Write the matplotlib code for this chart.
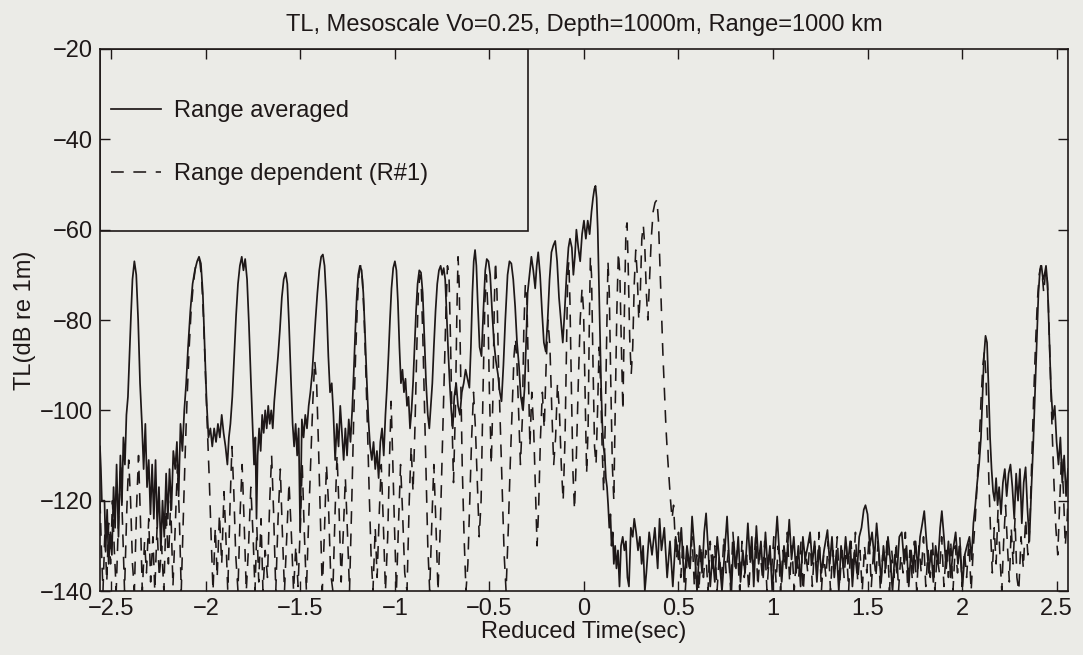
import numpy as np
import matplotlib.pyplot as plt
from matplotlib.patches import Rectangle

# ---- text ----
title_text = 'TL, Mesoscale Vo=0.25, Depth=1000m, Range=1000 km'
x_label = 'Reduced Time(sec)'
y_label = 'TL(dB re 1m)'
series_names = ['Range averaged', 'Range dependent (R#1)']

x_ticks = [-2.5, -2, -1.5, -1, -0.5, 0, 0.5, 1, 1.5, 2, 2.5]
x_tick_labels = ['\u22122.5', '\u22122', '\u22121.5', '\u22121', '\u22120.5', '0',
                 '0.5', '1', '1.5', '2', '2.5']
y_ticks = [-140, -120, -100, -80, -60, -40, -20]
y_tick_labels = ['\u2212140', '\u2212120', '\u2212100', '\u221280', '\u221260',
                 '\u221240', '\u221220']

# ---- Range averaged (solid) as (time, TL) ----
avg_early = [
    (-2.560, -108), (-2.555, -113), (-2.550, -120), (-2.536, -120), (-2.530, -131),
    (-2.522, -122), (-2.514, -134), (-2.505, -127), (-2.497, -132), (-2.488, -117),
    (-2.480, -126), (-2.472, -112), (-2.462, -128), (-2.452, -110), (-2.444, -121),
    (-2.436, -106), (-2.428, -112), (-2.420, -101), (-2.412, -97), (-2.404, -88),
    (-2.396, -79), (-2.388, -71), (-2.378, -67), (-2.368, -70), (-2.358, -80),
    (-2.348, -94), (-2.338, -103), (-2.329, -113), (-2.320, -103), (-2.311, -117),
    (-2.302, -111), (-2.293, -123), (-2.284, -112), (-2.275, -124), (-2.266, -111),
    (-2.257, -126), (-2.248, -117), (-2.238, -131), (-2.229, -120), (-2.220, -128),
    (-2.210, -114), (-2.201, -124), (-2.192, -113), (-2.182, -122), (-2.172, -109),
    (-2.162, -113), (-2.153, -107), (-2.144, -119), (-2.134, -103), (-2.124, -109),
    (-2.114, -100), (-2.104, -94), (-2.094, -86), (-2.082, -78), (-2.070, -72),
    (-2.058, -69), (-2.046, -67), (-2.036, -66), (-2.026, -67.5), (-2.016, -74),
    (-2.006, -86), (-1.996, -98), (-1.986, -106), (-1.976, -104), (-1.966, -108),
    (-1.956, -104), (-1.946, -107), (-1.936, -103), (-1.926, -106), (-1.916, -101),
    (-1.906, -105), (-1.896, -108), (-1.886, -112), (-1.878, -106),
    (-1.870, -103), (-1.860, -97), (-1.850, -88), (-1.840, -79), (-1.830, -72),
    (-1.820, -68), (-1.810, -66), (-1.801, -69), (-1.792, -66.5), (-1.782, -71),
    (-1.772, -81), (-1.762, -93), (-1.752, -104), (-1.745, -112), (-1.738, -106),
    (-1.732, -124), (-1.726, -110), (-1.718, -104), (-1.710, -109), (-1.702, -101),
    (-1.694, -105), (-1.686, -100), (-1.678, -104), (-1.670, -99), (-1.662, -103),
    (-1.654, -100), (-1.646, -104),
    (-1.638, -98), (-1.628, -93), (-1.618, -88), (-1.608, -82), (-1.598, -75),
    (-1.588, -71), (-1.578, -69.5), (-1.569, -72), (-1.560, -81), (-1.550, -93),
    (-1.541, -103), (-1.533, -108), (-1.525, -103), (-1.517, -110), (-1.509, -104),
    (-1.501, -127), (-1.492, -102), (-1.483, -106), (-1.474, -101), (-1.465, -104),
    (-1.456, -99),
    (-1.447, -96), (-1.438, -92), (-1.429, -86), (-1.420, -80), (-1.410, -74),
    (-1.400, -69), (-1.390, -66), (-1.381, -65.5), (-1.372, -68), (-1.362, -76),
    (-1.352, -88), (-1.343, -96), (-1.334, -94), (-1.325, -101), (-1.316, -111),
    (-1.307, -103), (-1.298, -108), (-1.289, -99), (-1.280, -105), (-1.271, -111),
    (-1.262, -104), (-1.253, -110), (-1.244, -102), (-1.235, -107),
    (-1.226, -100), (-1.218, -92), (-1.210, -83), (-1.202, -75), (-1.194, -70),
    (-1.185, -68), (-1.176, -69), (-1.167, -74), (-1.158, -83), (-1.149, -93),
    (-1.140, -102), (-1.131, -108), (-1.122, -111), (-1.113, -107), (-1.104, -113),
    (-1.095, -109), (-1.086, -115), (-1.077, -107), (-1.068, -104), (-1.059, -110),
    (-1.050, -101), (-1.042, -95),
    (-1.034, -88), (-1.026, -80), (-1.018, -73), (-1.009, -68.5), (-1.000, -67),
    (-0.992, -69), (-0.984, -76), (-0.976, -86), (-0.968, -94), (-0.960, -91),
    (-0.952, -96), (-0.944, -93), (-0.936, -99), (-0.928, -97), (-0.920, -104),
    (-0.912, -100),
    (-0.904, -94), (-0.896, -86), (-0.888, -78), (-0.880, -72), (-0.871, -69),
    (-0.862, -69.5), (-0.853, -74), (-0.844, -84), (-0.835, -94), (-0.826, -101),
    (-0.818, -104), (-0.810, -99), (-0.802, -94),
    (-0.794, -86), (-0.785, -78), (-0.776, -72), (-0.767, -69), (-0.758, -68),
    (-0.750, -70), (-0.742, -68.5), (-0.734, -71), (-0.726, -79), (-0.718, -87),
    (-0.710, -94), (-0.702, -100), (-0.694, -104),
]

avg_final = [
    (-0.686, -97), (-0.676, -94), (-0.666, -99), (-0.656, -101), (-0.646, -96),
    (-0.636, -94), (-0.626, -91), (-0.616, -93), (-0.606, -95), (-0.598, -86),
    (-0.590, -74), (-0.583, -67), (-0.576, -64.5), (-0.569, -68), (-0.562, -76),
    (-0.552, -86), (-0.542, -88), (-0.532, -78), (-0.522, -69), (-0.514, -66.5),
    (-0.505, -67), (-0.496, -70), (-0.486, -78), (-0.476, -85), (-0.466, -89),
    (-0.455, -92), (-0.445, -96), (-0.436, -98), (-0.426, -90), (-0.416, -80),
    (-0.404, -70), (-0.394, -67), (-0.384, -67.5), (-0.374, -71), (-0.364, -77),
    (-0.354, -85), (-0.344, -90), (-0.334, -97), (-0.322, -100), (-0.314, -95),
    (-0.306, -85), (-0.298, -74), (-0.288, -70), (-0.278, -66), (-0.268, -69),
    (-0.258, -73), (-0.250, -68), (-0.242, -65), (-0.232, -70), (-0.222, -78),
    (-0.212, -85), (-0.202, -87), (-0.192, -80), (-0.182, -71), (-0.172, -65),
    (-0.162, -63.5), (-0.152, -62.5), (-0.142, -67), (-0.132, -75), (-0.122, -80),
    (-0.112, -85), (-0.102, -78), (-0.092, -70), (-0.082, -64), (-0.074, -62),
    (-0.064, -64), (-0.056, -70), (-0.048, -66), (-0.040, -60), (-0.030, -64),
    (-0.020, -67), (-0.010, -61), (0.000, -58), (0.010, -62), (0.020, -58),
    (0.030, -61), (0.040, -56), (0.048, -53), (0.055, -51), (0.061, -50.3),
    (0.067, -53), (0.073, -60), (0.079, -72), (0.085, -84), (0.091, -95),
    (0.097, -103), (0.103, -108), (0.110, -110), (0.116, -115), (0.122, -117),
    (0.128, -121), (0.134, -126), (0.140, -123), (0.146, -130), (0.152, -127),
    (0.158, -134), (0.165, -130), (0.172, -135), (0.180, -131), (0.188, -139),
    (0.196, -130), (0.205, -128), (0.214, -131), (0.222, -129), (0.230, -137),
    (0.238, -139), (0.248, -126), (0.258, -128), (0.266, -124), (0.276, -127),
    (0.286, -131), (0.296, -128), (0.305, -134), (0.313, -130), (0.322, -140),
]

avg_floor = [
    (0.330, -136), (0.345, -127), (0.360, -132), (0.375, -126), (0.390, -135),
    (0.400, -124), (0.410, -131), (0.425, -126), (0.440, -137), (0.455, -129),
    (0.470, -139), (0.485, -128), (0.500, -133), (0.515, -126), (0.530, -138),
    (0.545, -130), (0.560, -135), (0.572, -123.5), (0.585, -131), (0.598, -140),
    (0.612, -130), (0.625, -136), (0.636, -127), (0.646, -122.8), (0.656, -130),
    (0.668, -139), (0.680, -132), (0.692, -138), (0.705, -128), (0.718, -134),
    (0.730, -140), (0.745, -131), (0.757, -123.5), (0.768, -133), (0.780, -140),
    (0.792, -129), (0.804, -135), (0.816, -128), (0.828, -138), (0.840, -131),
    (0.852, -136), (0.867, -125), (0.878, -133), (0.888, -128), (0.898, -139),
    (0.912, -125.6), (0.924, -134), (0.936, -129), (0.948, -137), (0.960, -127),
    (0.972, -135), (0.984, -130), (0.996, -140), (1.010, -131), (1.022, -123.5),
    (1.034, -132), (1.046, -138), (1.058, -130), (1.070, -135), (1.086, -124.2),
    (1.098, -133), (1.110, -128), (1.122, -136), (1.134, -130), (1.146, -139),
    (1.158, -128), (1.170, -133), (1.184, -130), (1.196, -127), (1.208, -134),
    (1.220, -129), (1.232, -138), (1.244, -130), (1.256, -136), (1.270, -131),
    (1.288, -126.5), (1.300, -134), (1.312, -128), (1.324, -137), (1.336, -131),
    (1.348, -140), (1.360, -130), (1.372, -135), (1.384, -128), (1.396, -134),
    (1.408, -129), (1.420, -139), (1.432, -131), (1.444, -136), (1.456, -128),
    (1.468, -126), (1.480, -122), (1.489, -121), (1.500, -123), (1.512, -130),
    (1.524, -127), (1.536, -133), (1.548, -125), (1.560, -131), (1.572, -138),
    (1.584, -130), (1.596, -135), (1.608, -128), (1.620, -133), (1.632, -140),
    (1.644, -132), (1.656, -136), (1.668, -128), (1.681, -127), (1.694, -134),
    (1.706, -130), (1.718, -139), (1.730, -131), (1.742, -136), (1.754, -129),
    (1.766, -135), (1.778, -128), (1.790, -125), (1.800, -122.3), (1.812, -129),
    (1.824, -136), (1.836, -131), (1.848, -138), (1.860, -130), (1.872, -134),
    (1.884, -126), (1.893, -122.3), (1.904, -128), (1.916, -135), (1.928, -129),
    (1.940, -137), (1.952, -131), (1.966, -127), (1.978, -134), (1.990, -130),
    (2.002, -139), (2.014, -132), (2.026, -130), (2.039, -128), (2.050, -133),
    (2.060, -125),
]

avg_late = [
    (2.070, -121), (2.080, -116), (2.090, -112), (2.100, -106), (2.108, -97),
    (2.116, -88), (2.124, -83.5), (2.132, -85), (2.140, -95), (2.148, -106),
    (2.156, -113), (2.164, -118), (2.172, -120), (2.180, -115), (2.188, -121),
    (2.196, -117), (2.206, -123), (2.216, -116), (2.226, -113), (2.236, -119),
    (2.246, -114), (2.256, -112), (2.266, -117), (2.276, -124), (2.286, -114),
    (2.296, -120), (2.306, -113), (2.316, -125), (2.326, -116), (2.336, -112.6),
    (2.346, -122), (2.356, -129), (2.366, -118), (2.376, -108), (2.386, -96),
    (2.396, -84), (2.404, -74), (2.412, -69), (2.420, -68), (2.428, -71),
    (2.436, -70), (2.444, -68), (2.452, -72), (2.460, -82), (2.470, -95),
    (2.480, -102), (2.490, -99), (2.500, -107), (2.510, -112), (2.520, -106),
    (2.530, -116), (2.540, -110), (2.550, -119), (2.560, -113),
]

# ---- Range dependent (dashed) ----
dep_early = [
    (-2.560, -120), (-2.552, -131), (-2.544, -140), (-2.534, -127), (-2.524, -138),
    (-2.514, -125), (-2.504, -134), (-2.494, -120), (-2.484, -131), (-2.474, -140),
    (-2.462, -124), (-2.450, -112), (-2.440, -126), (-2.430, -140), (-2.418, -122),
    (-2.408, -111), (-2.398, -120), (-2.388, -134), (-2.378, -140), (-2.366, -121),
    (-2.356, -110), (-2.346, -124), (-2.336, -140), (-2.324, -129), (-2.314, -136),
    (-2.302, -124), (-2.292, -138), (-2.280, -128), (-2.270, -140), (-2.258, -126),
    (-2.246, -137), (-2.234, -130), (-2.222, -140), (-2.210, -122), (-2.198, -134),
    (-2.186, -120), (-2.174, -139), (-2.162, -126), (-2.150, -112), (-2.140, -124),
    (-2.130, -140), (-2.118, -122),
    (-2.108, -108), (-2.098, -96), (-2.088, -86), (-2.078, -78), (-2.066, -72),
    (-2.054, -68), (-2.042, -66.5), (-2.032, -67), (-2.022, -71), (-2.012, -80),
    (-2.002, -92), (-1.992, -104), (-1.982, -115), (-1.972, -128), (-1.962, -140),
    (-1.950, -126), (-1.940, -137), (-1.928, -123), (-1.916, -134), (-1.904, -118),
    (-1.894, -128), (-1.884, -140), (-1.872, -121), (-1.862, -108), (-1.852, -118),
    (-1.842, -132), (-1.830, -140), (-1.818, -122), (-1.808, -112), (-1.798, -124),
    (-1.786, -140), (-1.774, -130), (-1.762, -117), (-1.750, -128), (-1.740, -140),
    (-1.730, -126), (-1.720, -138), (-1.708, -124), (-1.698, -140), (-1.686, -131),
    (-1.674, -137), (-1.662, -120), (-1.652, -110), (-1.642, -122), (-1.630, -140),
    (-1.618, -124), (-1.606, -113), (-1.596, -126), (-1.584, -140), (-1.572, -128),
    (-1.560, -116), (-1.548, -127), (-1.536, -140), (-1.524, -130), (-1.512, -139),
    (-1.500, -125), (-1.490, -112), (-1.480, -126), (-1.468, -140), (-1.456, -124),
    (-1.444, -110), (-1.434, -98), (-1.424, -89), (-1.414, -94), (-1.404, -108),
    (-1.394, -124), (-1.384, -140), (-1.372, -126), (-1.362, -112), (-1.352, -120),
    (-1.340, -136), (-1.328, -140), (-1.316, -122), (-1.306, -110), (-1.296, -121),
    (-1.284, -138), (-1.272, -126), (-1.262, -115), (-1.250, -128), (-1.240, -140),
    (-1.228, -120),
    (-1.218, -102), (-1.208, -88), (-1.198, -76), (-1.190, -70), (-1.181, -68),
    (-1.172, -71), (-1.163, -79), (-1.154, -91), (-1.145, -104), (-1.136, -118),
    (-1.126, -132), (-1.116, -140), (-1.104, -126), (-1.094, -137), (-1.082, -122),
    (-1.072, -112), (-1.062, -124), (-1.050, -140), (-1.038, -128), (-1.028, -110),
    (-1.020, -98), (-1.012, -110), (-1.002, -126), (-0.992, -140), (-0.980, -124),
    (-0.970, -112), (-0.960, -122), (-0.948, -136), (-0.936, -140), (-0.924, -120),
    (-0.914, -108), (-0.904, -118), (-0.894, -104), (-0.884, -86), (-0.876, -74),
    (-0.868, -70), (-0.860, -73), (-0.852, -84), (-0.844, -98), (-0.836, -112),
    (-0.826, -130), (-0.816, -140), (-0.804, -124), (-0.794, -112), (-0.784, -124),
    (-0.772, -140), (-0.760, -126), (-0.750, -110), (-0.740, -94), (-0.730, -78),
    (-0.722, -68), (-0.714, -70), (-0.706, -84), (-0.698, -102), (-0.690, -116),
]

dep_final = [
    (-0.680, -100), (-0.672, -78), (-0.666, -66), (-0.660, -72), (-0.652, -92),
    (-0.644, -112), (-0.634, -128), (-0.624, -140), (-0.614, -134), (-0.604, -120),
    (-0.594, -106), (-0.584, -96), (-0.574, -104), (-0.564, -116), (-0.554, -128),
    (-0.544, -120), (-0.534, -96), (-0.524, -76), (-0.516, -70), (-0.508, -78),
    (-0.500, -96), (-0.490, -112), (-0.482, -98), (-0.474, -76), (-0.468, -67),
    (-0.460, -74), (-0.452, -90), (-0.442, -104), (-0.432, -118), (-0.422, -132),
    (-0.412, -140), (-0.400, -126), (-0.390, -112), (-0.380, -100), (-0.370, -88),
    (-0.362, -84), (-0.354, -90), (-0.346, -100), (-0.336, -112), (-0.326, -102),
    (-0.318, -82), (-0.310, -72), (-0.302, -75), (-0.294, -92), (-0.286, -108),
    (-0.276, -96), (-0.266, -104), (-0.256, -118), (-0.248, -130), (-0.240, -122),
    (-0.230, -106), (-0.220, -96), (-0.210, -104), (-0.200, -90), (-0.190, -80),
    (-0.180, -86), (-0.170, -100), (-0.160, -112), (-0.150, -106), (-0.140, -94),
    (-0.130, -100), (-0.120, -112), (-0.110, -120), (-0.100, -106), (-0.092, -86),
    (-0.086, -70), (-0.080, -67), (-0.074, -76), (-0.066, -96), (-0.058, -114),
    (-0.050, -122), (-0.040, -110), (-0.030, -94), (-0.020, -80), (-0.010, -73),
    (-0.002, -78), (0.006, -96), (0.014, -114), (0.022, -104), (0.028, -82),
    (0.034, -66), (0.040, -70), (0.048, -90), (0.056, -108), (0.064, -112),
    (0.072, -100), (0.080, -86), (0.088, -94), (0.096, -108), (0.104, -118),
    (0.112, -104), (0.120, -84), (0.127, -67), (0.134, -74), (0.142, -94),
    (0.150, -112), (0.158, -120), (0.166, -98), (0.174, -78), (0.182, -65),
    (0.190, -70), (0.198, -86), (0.206, -100), (0.214, -78), (0.222, -60),
    (0.228, -58.5), (0.234, -68), (0.242, -84), (0.250, -92), (0.258, -86),
    (0.266, -72), (0.274, -64.5), (0.282, -70), (0.290, -80), (0.298, -74),
    (0.306, -62), (0.314, -59), (0.322, -64), (0.330, -74), (0.338, -80),
    (0.346, -72), (0.356, -62), (0.366, -56), (0.376, -54), (0.386, -53.4),
    (0.394, -58), (0.402, -68), (0.410, -78), (0.418, -88), (0.426, -96),
    (0.434, -104), (0.442, -110), (0.450, -115), (0.458, -120), (0.466, -124),
    (0.474, -121), (0.482, -128), (0.490, -133),
]

dep_floor = [
    (0.500, -127), (0.512, -137), (0.524, -129), (0.536, -140), (0.548, -131),
    (0.560, -136), (0.572, -128), (0.584, -139), (0.596, -132), (0.608, -140),
    (0.620, -130), (0.632, -137), (0.644, -131), (0.656, -140), (0.668, -129),
    (0.680, -136), (0.692, -130), (0.704, -140), (0.716, -132), (0.728, -138),
    (0.740, -128), (0.752, -136), (0.764, -131), (0.776, -140), (0.788, -127),
    (0.800, -135), (0.812, -131), (0.824, -140), (0.836, -129), (0.848, -137),
    (0.860, -132), (0.872, -140), (0.884, -130), (0.896, -136), (0.908, -128),
    (0.920, -139), (0.932, -131), (0.944, -137), (0.956, -129), (0.968, -140),
    (0.980, -132), (0.992, -136), (1.004, -128), (1.016, -138), (1.028, -130),
    (1.040, -140), (1.052, -131), (1.064, -135), (1.076, -127), (1.088, -138),
    (1.100, -130), (1.112, -140), (1.124, -132), (1.136, -137), (1.148, -129),
    (1.160, -140), (1.172, -131), (1.184, -136), (1.196, -128), (1.208, -139),
    (1.220, -130), (1.232, -136), (1.244, -127), (1.256, -140), (1.268, -132),
    (1.280, -137), (1.292, -129), (1.304, -140), (1.316, -131), (1.328, -135),
    (1.340, -128), (1.352, -139), (1.364, -131), (1.376, -137), (1.388, -130),
    (1.400, -140), (1.412, -129), (1.424, -136), (1.436, -127), (1.448, -138),
    (1.460, -131), (1.472, -140), (1.484, -130), (1.496, -136), (1.508, -128),
    (1.520, -139), (1.532, -131), (1.544, -137), (1.556, -129), (1.568, -140),
    (1.580, -132), (1.592, -136), (1.604, -128), (1.616, -140), (1.628, -131),
    (1.640, -137), (1.652, -129), (1.664, -140), (1.676, -132), (1.688, -136),
    (1.700, -127), (1.712, -139), (1.724, -131), (1.736, -137), (1.748, -129),
    (1.760, -140), (1.772, -130), (1.784, -136), (1.796, -128), (1.808, -139),
    (1.820, -131), (1.832, -137), (1.844, -129), (1.856, -140), (1.868, -132),
    (1.880, -136), (1.892, -128), (1.904, -139), (1.916, -131), (1.928, -137),
    (1.940, -129), (1.952, -140), (1.964, -130), (1.976, -136), (1.988, -128),
    (2.000, -139), (2.012, -131), (2.024, -137), (2.036, -129), (2.048, -140),
    (2.060, -130), (2.070, -124),
]

dep_late = [
    (2.080, -116), (2.090, -108), (2.100, -98), (2.110, -90), (2.118, -87),
    (2.126, -92), (2.134, -104), (2.142, -116), (2.150, -126), (2.160, -136),
    (2.170, -126), (2.180, -134), (2.190, -122), (2.200, -132), (2.210, -140),
    (2.220, -129), (2.230, -121), (2.240, -130), (2.250, -138), (2.260, -126),
    (2.270, -134), (2.280, -124), (2.290, -137), (2.300, -140), (2.312, -128),
    (2.324, -135), (2.336, -124), (2.348, -132), (2.358, -126), (2.368, -112),
    (2.378, -98), (2.388, -86), (2.398, -76), (2.408, -70), (2.416, -68),
    (2.424, -70), (2.432, -74), (2.440, -70), (2.448, -69), (2.456, -76),
    (2.466, -90), (2.476, -104), (2.486, -116), (2.496, -126), (2.506, -132),
    (2.516, -121), (2.526, -110), (2.536, -118), (2.546, -130), (2.556, -124),
    (2.560, -120),
]

avg = np.array(avg_early + avg_final + avg_floor + avg_late)
dep = np.array(dep_early + dep_final + dep_floor + dep_late)

ink = '#1e1818'
paper = '#ebebe7'
plt.rcParams['font.family'] = ['Liberation Sans', 'DejaVu Sans']
fs = 17

fig = plt.figure(figsize=(10.83, 6.55), dpi=100, facecolor=paper)
ax = fig.add_axes([0.0923, 0.0977, 0.8938, 0.8275], facecolor=paper)

ax.plot(avg[:, 0], avg[:, 1], color=ink, lw=1.25, label=series_names[0])
ax.plot(dep[:, 0], dep[:, 1], color=ink, lw=1.15, dashes=(8, 6), label=series_names[1])

ax.set_xlim(-2.56, 2.56)
ax.set_ylim(-140, -20)
ax.set_xticks(x_ticks)
ax.set_xticklabels(x_tick_labels)
ax.set_yticks(y_ticks)
ax.set_yticklabels(y_tick_labels)
ax.tick_params(direction='in', length=7, width=1, top=True, right=True,
               labelsize=fs, colors=ink, pad=5)
for s in ax.spines.values():
    s.set_linewidth(1.2)
    s.set_color(ink)

ax.set_title(title_text, fontsize=fs, color=ink, pad=13)
ax.set_xlabel(x_label, fontsize=fs, color=ink, labelpad=1)
ax.set_ylabel(y_label, fontsize=fs, color=ink, labelpad=3)

# legend box in the upper-left corner, as in the MATLAB figure
ax.add_patch(Rectangle((0, 0.664), 0.442, 0.336, transform=ax.transAxes,
                       fill=False, edgecolor=ink, lw=1.2, zorder=4))
leg = ax.legend(loc='upper left', bbox_to_anchor=(0.0114, 0.906), frameon=False,
                fontsize=fs, borderpad=0, borderaxespad=0, handlelength=2.1,
                handletextpad=0.55, labelspacing=1.75)
for txt in leg.get_texts():
    txt.set_color(ink)

fig.savefig('out.png', dpi=100, facecolor=paper)
